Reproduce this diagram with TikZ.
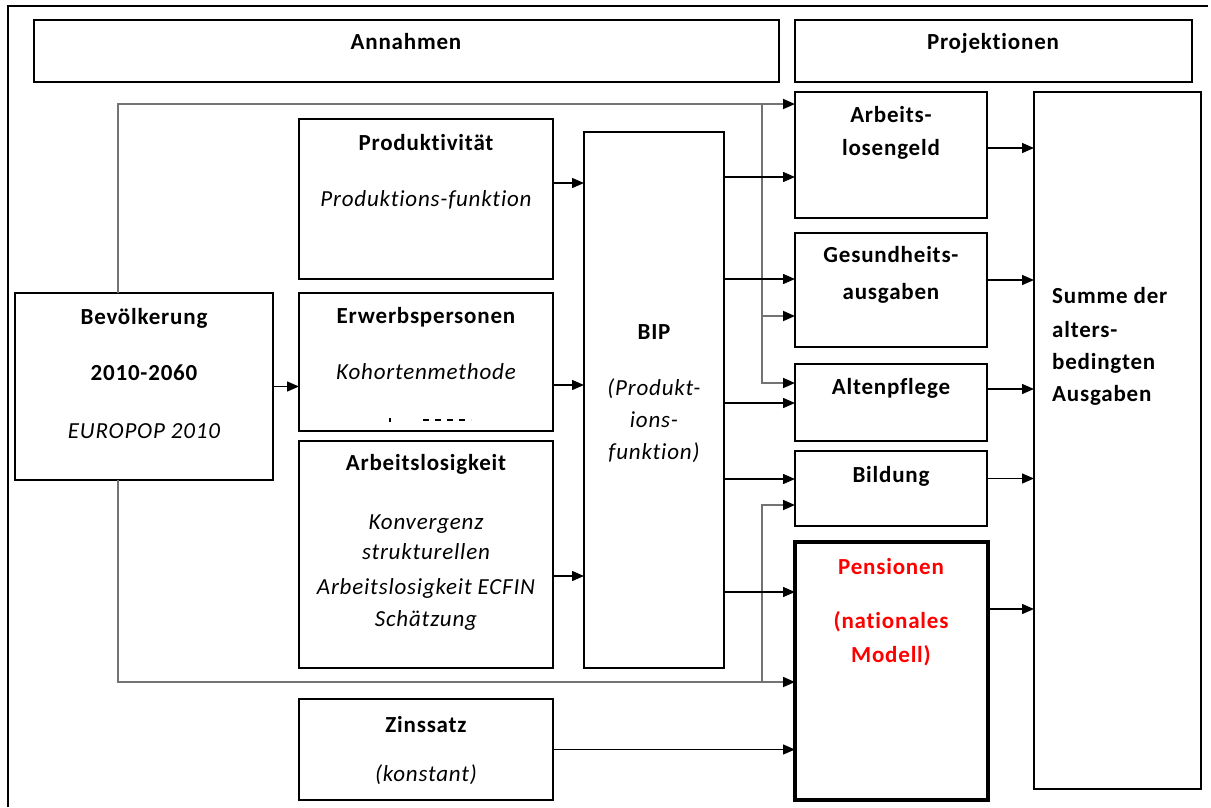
\documentclass[tikz,border=0pt]{standalone}
\usepackage{fontspec}
\setmainfont{Carlito}[LetterSpace=3.5,Ligatures=NoCommon]
\usetikzlibrary{arrows.meta}
\newcommand\mkbox[6][]{%
  \pgfmathsetmacro\mkbw{#5-#3}%
  \pgfmathsetmacro\mkbh{#6-#4}%
  \node[box,#1,minimum width=\mkbw pt,minimum height=\mkbh pt] (#2) at ({(#3+#5)/2},{(#4+#6)/2}) {};}
\begin{document}
\begin{tikzpicture}[x=1pt,y=-1pt,
  box/.style={draw=black, line width=1.3pt, inner sep=0pt, outer sep=0pt},
  txt/.style={anchor=base, inner sep=0pt, font=\fontsize{23}{27}\selectfont},
  hd/.style={txt, font=\fontsize{23}{27}\selectfont\bfseries},
  itx/.style={txt, font=\fontsize{23}{27}\selectfont\itshape},
  red/.style={hd, text=red},
  arr/.style={line width=1.4pt, -{Triangle[length=12pt,width=10pt]}},
  gl/.style={line width=1.8pt, draw=black!55, -{Triangle[length=12pt,width=10pt,color=black]}},
  glp/.style={line width=1.8pt, draw=black!55},
]
\useasboundingbox (0,0) rectangle (1211,807);
\fill[white] (0,0) rectangle (1211,807);
% outer frame
\draw[line width=1.3pt] (8,807) -- (8,6) -- (1208,6);

% boxes
\mkbox{ann}{34}{20}{779}{82}
\mkbox{proj}{795}{20}{1192}{82}
\mkbox{bev}{15}{293}{273}{480}
\mkbox{prod}{299}{119}{553}{279}
\mkbox{erw}{299}{293}{553}{431}
\mkbox{arb}{299}{441}{553}{668}
\mkbox{zins}{299}{699}{553}{800}
\mkbox{bip}{584}{132}{724}{668}
\mkbox{alg}{795}{92}{987}{218}
\mkbox{ges}{795}{233}{987}{347}
\mkbox{alt}{795}{364}{987}{441}
\mkbox{bil}{795}{451}{987}{526}
\mkbox[line width=4pt]{pen}{795}{542}{988}{800}
\mkbox{sum}{1034}{92}{1201}{789}

% texts
\node[hd] (tann) at (406,49) {Annahmen};
\node[hd] (tproj) at (993,49) {Projektionen};
\node[hd] (tbev1) at (144,324) {Bevölkerung};
\node[hd] (tbev2) at (144,380) {2010-2060};
\node[itx] (tbev3) at (144,438) {EUROPOP 2010};
\node[hd] (tprod1) at (426,150) {Produktivität};
\node[itx] (tprod2) at (426,206) {Produktions-funktion};
\node[hd] (terw1) at (426,323) {Erwerbspersonen};
\node[itx] (terw2) at (426,379) {Kohortenmethode};
\node[hd] (tarb1) at (426,470) {Arbeitslosigkeit};
\node[itx] (tarb2) at (426,529) {Konvergenz};
\node[itx] (tarb3) at (426,559) {strukturellen};
\node[itx] (tarb4) at (426,594) {Arbeitslosigkeit ECFIN};
\node[itx] (tarb5) at (426,626) {Schätzung};
\node[hd] (tzins1) at (426,732) {Zinssatz};
\node[itx] (tzins2) at (426,781) {(konstant)};
\node[hd] (tbip1) at (654,339) {BIP};
\node[itx] (tbip2) at (654,395) {(Produkt-};
\node[itx] (tbip3) at (654,427) {ions-};
\node[itx] (tbip4) at (654,459) {funktion)};
\node[hd] (talg1) at (891,122) {Arbeits-};
\node[hd] (talg2) at (891,155) {losengeld};
\node[hd] (tges1) at (891,262) {Gesundheits-};
\node[hd] (tges2) at (891,299) {ausgaben};
\node[hd] (talt) at (891,394) {Altenpflege};
\node[hd] (tbil) at (891,482) {Bildung};
\node[red] (tpen1) at (891,574) {Pensionen};
\node[red] (tpen2) at (891,628) {(nationales};
\node[red] (tpen3) at (891,662) {Modell)};
\node[hd,anchor=base west] (tsum1) at (1052,303) {Summe der};
\node[hd,anchor=base west] (tsum2) at (1052,337) {alters-};
\node[hd,anchor=base west] (tsum3) at (1052,369) {bedingten};
\node[hd,anchor=base west] (tsum4) at (1052,401) {Ausgaben};

% stray marks in Erwerbspersonen box
\draw[line width=1.2pt] (390,418) -- (390,422);
\draw[line width=2.6pt, dash pattern=on 6pt off 6pt] (423,420) -- (471,420);

% gray population lines
\draw[gl] ([xshift=-26pt]bev.north) |- ([yshift=51pt]alg.west);
\coordinate (jt) at (762,104);
\coordinate (jb) at (762,683);
\draw[glp] (jt) -- (762,383);
\draw[gl] (jt) |- ([yshift=-26pt]ges.west);
\draw[gl] (jt) |- ([yshift=19.5pt]alt.west);
\draw[gl] ([xshift=-26pt]bev.south) |- ([yshift=-11pt]pen.west);
\draw[gl] (jb) |- ([yshift=-16.5pt]bil.west);

% black arrows
\draw[arr] (bev.east) -- (bev.east -| erw.west);
\draw[arr] ([yshift=16pt]prod.east) coordinate (a1) -- (a1 -| bip.west);
\draw[arr] ([yshift=-23pt]erw.east) coordinate (a2) -- (a2 -| bip.west);
\draw[arr] ([yshift=-21.5pt]arb.east) coordinate (a3) -- (a3 -| bip.west);

\draw[arr] ([yshift=223pt]bip.east) coordinate (b1) -- (b1 -| alg.west);
\draw[arr] ([yshift=121pt]bip.east) coordinate (b2) -- (b2 -| ges.west);
\draw[arr] ([yshift=-3pt]bip.east) coordinate (b3) -- (b3 -| alt.west);
\draw[arr] ([yshift=-79pt]bip.east) coordinate (b4) -- (b4 -| bil.west);
\draw[arr] ([yshift=-192pt]bip.east) coordinate (b5) -- (b5 -| pen.west);
\draw[arr] (zins.east) -- (zins.east -| pen.west);

\draw[arr] ([yshift=7pt]alg.east) coordinate (c1) -- (c1 -| sum.west);
\draw[arr] ([yshift=10pt]ges.east) coordinate (c2) -- (c2 -| sum.west);
\draw[arr] ([yshift=13.5pt]alt.east) coordinate (c3) -- (c3 -| sum.west);
\draw[arr] ([yshift=10pt]bil.east) coordinate (c4) -- (c4 -| sum.west);
\draw[arr] ([yshift=62pt]pen.east) coordinate (c5) -- (c5 -| sum.west);
\end{tikzpicture}
\end{document}
